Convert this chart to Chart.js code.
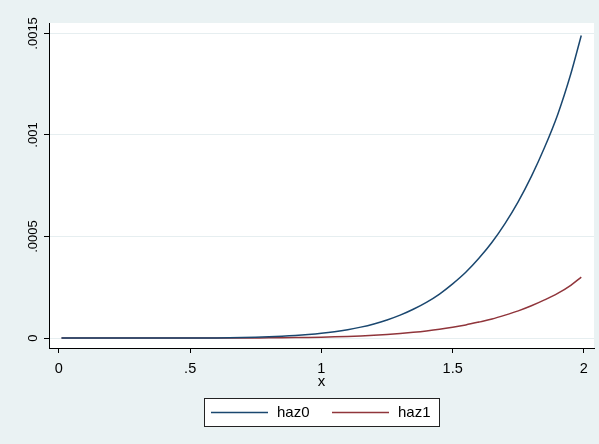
<!DOCTYPE html>
<html>
<head>
<meta charset="utf-8">
<script src="https://cdn.jsdelivr.net/npm/chart.js@4/dist/chart.umd.min.js"></script>
<style>
  html, body { margin: 0; padding: 0; background: #eaf2f3; }
  #wrap { width: 599px; height: 444px; }
</style>
</head>
<body>
<div id="wrap"><canvas id="c" width="599" height="444"></canvas></div>
<script>
// Hazard curves by group
const xValues = [0.01, 0.05, 0.10, 0.15, 0.20, 0.25, 0.30, 0.35, 0.40, 0.45,
                 0.50, 0.55, 0.60, 0.65, 0.70, 0.75, 0.80, 0.85, 0.90, 0.95,
                 1.00, 1.05, 1.10, 1.15, 1.20, 1.25, 1.30, 1.35, 1.40, 1.45,
                 1.50, 1.55, 1.60, 1.65, 1.70, 1.75, 1.80, 1.85, 1.90, 1.95, 1.99];
const haz0 = [0, 0, 0, 2.7e-10, 1.5e-9, 5.7e-9, 1.7e-8, 4.3e-8, 9.6e-8, 1.94e-7,
              3.66e-7, 6.48e-7, 1.09e-6, 1.76e-6, 2.75e-6, 4.16e-6, 6.13e-6, 8.83e-6, 1.24e-5, 1.72e-5,
              2.34e-5, 3.14e-5, 4.15e-5, 5.41e-5, 6.99e-5, 8.93e-5, 1.13e-4, 1.42e-4, 1.76e-4, 2.17e-4,
              2.67e-4, 3.24e-4, 3.93e-4, 4.72e-4, 5.65e-4, 6.72e-4, 7.96e-4, 9.38e-4, 1.10e-3, 1.30e-3, 1.49e-3];
const haz1 = [0, 0, 0, 5e-11, 3e-10, 1.1e-9, 3.4e-9, 8.6e-9, 1.9e-8, 3.9e-8,
              7.3e-8, 1.3e-7, 2.2e-7, 3.5e-7, 5.5e-7, 8.3e-7, 1.23e-6, 1.77e-6, 2.5e-6, 3.4e-6,
              4.7e-6, 6.3e-6, 8.3e-6, 1.08e-5, 1.40e-5, 1.79e-5, 2.26e-5, 2.84e-5, 3.52e-5, 4.34e-5,
              5.34e-5, 6.5e-5, 7.9e-5, 9.4e-5, 1.13e-4, 1.34e-4, 1.59e-4, 1.88e-4, 2.20e-4, 2.60e-4, 3.00e-4];
const xTicks = [0, 0.5, 1, 1.5, 2];
const xTickLabels = ['0', '.5', '1', '1.5', '2'];
const yTicks = [0, 0.0005, 0.001, 0.0015];
const yTickLabels = ['0', '.0005', '.001', '.0015'];
const seriesNames = ['haz0', 'haz1'];
const xTitle = 'x';

const FONT = '"Liberation Sans", Arial, Helvetica, sans-serif';
const BG = '#eaf2f3';
const colors = ['#1a476f', '#90353b'];

const toPoints = ys => xValues.map((x, i) => ({ x: x, y: ys[i] }));

const stataFrame = {
  id: 'stataFrame',
  beforeDraw(chart) {
    const { ctx, chartArea: a } = chart;
    ctx.save();
    ctx.fillStyle = BG;
    ctx.fillRect(0, 0, chart.width, chart.height);
    ctx.fillStyle = '#ffffff';
    ctx.fillRect(a.left, a.top, a.right - a.left, a.bottom - a.top);
    ctx.restore();
  },
  afterDraw(chart) {
    const { ctx, chartArea: a } = chart;
    const xs = chart.scales.x, ys = chart.scales.y;
    ctx.save();
    ctx.fillStyle = '#000';
    // x tick labels
    ctx.font = '14.5px ' + FONT;
    ctx.textAlign = 'center';
    ctx.textBaseline = 'alphabetic';
    xTicks.forEach((v, i) => {
      ctx.fillText(xTickLabels[i], xs.getPixelForValue(v), 373);
    });
    // x title
    ctx.font = '15px ' + FONT;
    ctx.fillText(xTitle, (a.left + a.right) / 2, 386);
    // y tick labels, rotated
    ctx.font = '13px ' + FONT;
    yTicks.forEach((v, i) => {
      ctx.save();
      ctx.translate(36.5, ys.getPixelForValue(v));
      ctx.rotate(-Math.PI / 2);
      ctx.textAlign = 'center';
      ctx.textBaseline = 'alphabetic';
      ctx.fillText(yTickLabels[i], 0, 0);
      ctx.restore();
    });
    // legend box
    const bx = 204.5, by = 398.5, bw = 235, bh = 28;
    ctx.fillStyle = '#ffffff';
    ctx.fillRect(bx, by, bw, bh);
    ctx.strokeStyle = '#222';
    ctx.lineWidth = 1;
    ctx.strokeRect(bx, by, bw, bh);
    const ly = 412.5;
    const items = chart.data.datasets;
    const starts = [211, 332];
    ctx.font = '15px ' + FONT;
    ctx.textAlign = 'left';
    ctx.textBaseline = 'middle';
    items.forEach((ds, i) => {
      const sx = starts[i];
      ctx.strokeStyle = ds.borderColor;
      ctx.lineWidth = 1.5;
      ctx.beginPath();
      ctx.moveTo(sx, ly);
      ctx.lineTo(sx + 57, ly);
      ctx.stroke();
      ctx.fillStyle = '#000';
      ctx.fillText(ds.label, sx + 66, ly);
    });
    ctx.restore();
  }
};

new Chart(document.getElementById('c'), {
  type: 'line',
  data: {
    datasets: [
      { label: seriesNames[0], data: toPoints(haz0), borderColor: colors[0], borderWidth: 1.5,
        pointRadius: 0, cubicInterpolationMode: 'monotone', fill: false },
      { label: seriesNames[1], data: toPoints(haz1), borderColor: colors[1], borderWidth: 1.5,
        pointRadius: 0, cubicInterpolationMode: 'monotone', fill: false }
    ]
  },
  options: {
    responsive: false,
    animation: false,
    events: [],
    layout: { padding: { left: 0, top: 23, right: 5, bottom: 56 } },
    plugins: { legend: { display: false }, tooltip: { enabled: false } },
    scales: {
      x: {
        type: 'linear',
        min: -0.0377,
        max: 2.0385,
        afterBuildTicks: s => { s.ticks = xTicks.map(v => ({ value: v })); },
        afterFit: s => { s.height = 40; },
        ticks: { display: false },
        grid: { drawOnChartArea: false, drawTicks: true, tickLength: 5, tickColor: '#000', tickWidth: 1 },
        border: { display: true, color: '#000', width: 1 }
      },
      y: {
        type: 'linear',
        min: -0.0000487,
        max: 0.0015513,
        afterBuildTicks: s => { s.ticks = yTicks.map(v => ({ value: v })); },
        afterFit: s => { s.width = 49; },
        ticks: { display: false },
        grid: { drawOnChartArea: true, color: '#e6eef0', lineWidth: 1, drawTicks: true,
                tickLength: 5, tickColor: '#000', tickWidth: 1 },
        border: { display: true, color: '#000', width: 1 }
      }
    }
  },
  plugins: [stataFrame]
});
</script>
</body>
</html>
